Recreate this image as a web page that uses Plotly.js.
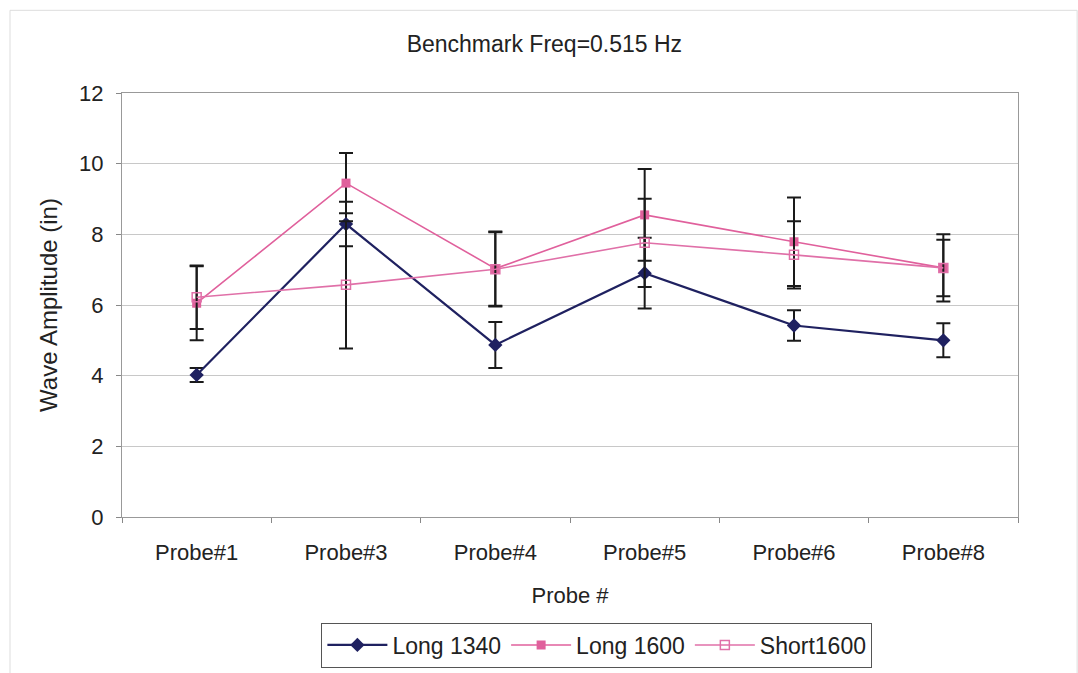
<!DOCTYPE html>
<html>
<head>
<meta charset="utf-8">
<script src="https://cdn.plot.ly/plotly-3.0.1.min.js"></script>
<style>html,body{margin:0;padding:0;background:#fff;}#chart{width:1078px;height:673px;}</style>
</head>
<body>
<div id="chart"></div>
<script>
const probes = ["Probe#1", "Probe#3", "Probe#4", "Probe#5", "Probe#6", "Probe#8"];
const long1340 = [4.02, 8.29, 4.87, 6.9, 5.42, 5.0];
const long1340Err = [0.2, 0.63, 0.65, 1.0, 0.43, 0.48];
const long1600 = [6.05, 9.45, 7.03, 8.55, 7.79, 7.05];
const long1600Err = [1.05, 0.85, 1.05, 1.3, 1.25, 0.95];
const short1600 = [6.22, 6.57, 7.01, 7.76, 7.42, 7.05];
const short1600Err = [0.9, 1.8, 1.05, 1.25, 0.95, 0.8];
const yTicks = [0, 2, 4, 6, 8, 10, 12];

const errStyle = (arr) => ({type: "data", array: arr, visible: true, color: "#1a1a1a", thickness: 2, width: 7});

const traces = [
  {x: probes, y: long1340, name: "Long 1340", type: "scatter", mode: "lines+markers",
   line: {color: "#1f2160", width: 2.2}, marker: {symbol: "diamond", size: 11, color: "#1f2160"},
   error_y: errStyle(long1340Err)},
  {x: probes, y: long1600, name: "Long 1600", type: "scatter", mode: "lines+markers",
   line: {color: "#e0609c", width: 1.6}, marker: {symbol: "square", size: 9, color: "#e0609c"},
   error_y: errStyle(long1600Err)},
  {x: probes, y: short1600, name: "Short1600", type: "scatter", mode: "lines+markers",
   line: {color: "#e070a8", width: 1.6}, marker: {symbol: "square-open", size: 9, color: "#e070a8", line: {width: 1.5}},
   error_y: errStyle(short1600Err)}
];

const layout = {
  width: 1078, height: 673,
  margin: {l: 122, r: 60, t: 93, b: 156},
  paper_bgcolor: "#ffffff", plot_bgcolor: "#ffffff",
  font: {family: "Liberation Sans, Arial, sans-serif", color: "#222", size: 22},
  title: {text: "Benchmark Freq=0.515 Hz", x: 0.505, xanchor: "center", y: 0.934, yanchor: "middle",
          font: {size: 23, color: "#222"}},
  showlegend: true,
  legend: {orientation: "h", x: 0.530, xanchor: "center", xref: "paper",
           yref: "container", y: 0.0416, yanchor: "middle",
           bordercolor: "#555", borderwidth: 1, font: {size: 23, color: "#222"}, itemwidth: 60,
           traceorder: "normal"},
  xaxis: {type: "category", range: [-0.5, 5.5], tickson: "boundaries", ticks: "outside", ticklen: 5,
          tickcolor: "#888", showline: true, linecolor: "#999", linewidth: 1, mirror: true, automargin: false,
          showgrid: false, zeroline: false, tickfont: {size: 22}, ticklabelstandoff: 16,
          title: {text: "Probe #", font: {size: 22}, standoff: 23}},
  yaxis: {range: [0, 12], tickvals: yTicks, ticktext: yTicks.map(String), ticks: "outside", ticklen: 5,
          tickcolor: "#888", showline: true, linecolor: "#999", linewidth: 1, mirror: true, automargin: false,
          showgrid: true, gridcolor: "#c8c8c8", gridwidth: 1, zeroline: false, tickfont: {size: 22},
          ticklabelstandoff: 8,
          title: {text: "Wave Amplitude (in)", font: {size: 24}, standoff: 14}},
  shapes: [
    {type: "rect", xref: "paper", yref: "paper", x0: -0.125, x1: 1.066, y0: -0.37, y1: 1.195,
     line: {color: "#dddddd", width: 1}, fillcolor: "rgba(0,0,0,0)"}
  ]
};

Plotly.newPlot("chart", traces, layout, {displayModeBar: false, staticPlot: true});
</script>
</body>
</html>
